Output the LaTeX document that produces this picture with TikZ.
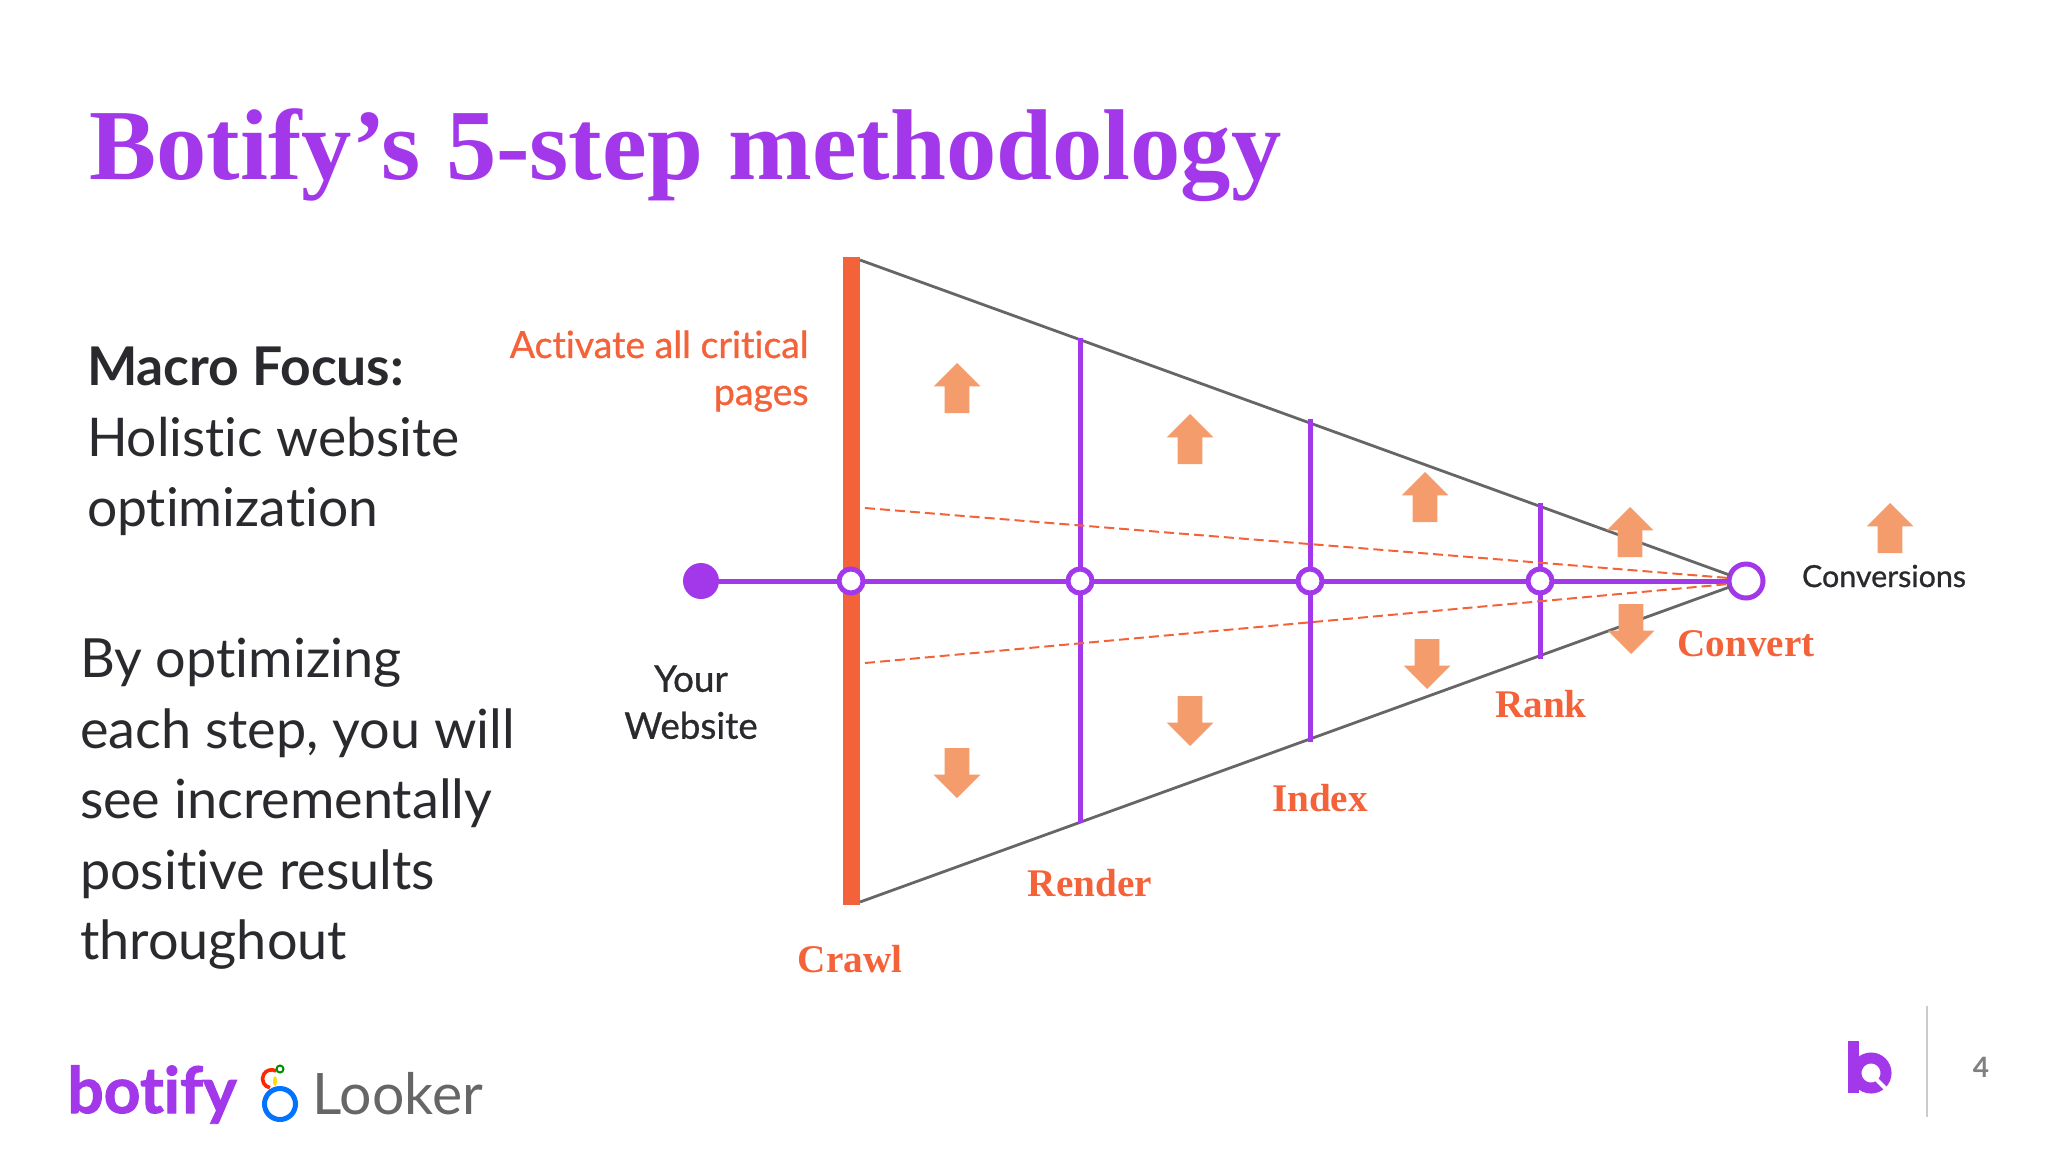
\documentclass[tikz,border=0pt]{standalone}
\usepackage{fontspec}
\setmainfont{Lato}[Ligatures=NoCommon]
\newfontfamily\titleface{Liberation Serif}
\newfontfamily\mediumface{Lato}[Ligatures=NoCommon,FakeBold=0.8]
\usetikzlibrary{shapes.arrows}

\definecolor{botpurple}{HTML}{A238EA}
\definecolor{botorange}{HTML}{F4623A}
\definecolor{botarrow}{HTML}{F49C6C}
\definecolor{botgrey}{HTML}{666666}
\definecolor{botink}{HTML}{2A2A2E}

\tikzset{
	bodytext/.style={inner sep=0pt,outer sep=0pt,align=left,text=botink,font=\fontsize{26.7}{35.3}\selectfont},
	steplabel/.style={inner sep=0pt,anchor=base,text=botorange,font=\titleface\bfseries\fontsize{19.6}{19.6}\selectfont},
	stepnode/.style={circle,draw=botpurple,line width=2.5pt,fill=white,minimum size=12pt,inner sep=0pt,outer sep=0pt},
	spine/.style={draw=botpurple,line width=2.5pt},
	edge/.style={draw=botgrey,line width=1.4pt},
	hint/.style={draw=botorange,line width=1pt,dash pattern=on 5pt off 2.5pt},
	block/.style={single arrow,fill=botarrow,inner xsep=0pt,inner ysep=6pt,outer sep=0pt,minimum height=25pt,minimum width=23pt,single arrow head extend=5.5pt,anchor=tail},
	upward/.style={block,rotate=90},
	downward/.style={block,rotate=-90},
}

\begin{document}
\begin{tikzpicture}[x=0.5pt,y=-0.5pt]
		\useasboundingbox (0,0) rectangle (2048,1152);

		\node[inner sep=0pt,anchor=base west,text=botpurple,font=\titleface\bfseries\fontsize{50.3}{50.3}\selectfont] (title) at (89,179) {Botify’s 5-step methodology};

		\node[bodytext,anchor=north west] (macro) at (87,347) {\textbf{Macro Focus:}\\Holistic website\\optimization};
		\node[bodytext,anchor=north west,font=\fontsize{27}{35.3}\selectfont] (steps) at (80,638) {By optimizing\\each step, you will\\see incrementally\\positive results\\throughout};

		\node[inner sep=0pt,align=right,anchor=north east,text=botorange,font=\mediumface\fontsize{18.7}{23.5}\selectfont] (critical) at (809,330) {Activate all critical\\pages};
		\node[inner sep=0pt,align=center,anchor=north,text=botink,font=\mediumface\fontsize{18.4}{23.5}\selectfont] (yoursite) at (691,665) {Your\\Website};

		% funnel
		\node[fill=botorange,inner sep=0pt,outer sep=0pt,minimum width=8.5pt,minimum height=324pt] (crawlbar) at (851,581) {};
		\coordinate (topedge) at (860,260);
		\coordinate (botedge) at (860,902);
		\coordinate (rendertop) at (1080,338);
		\coordinate (renderbot) at (1080,823);
		\coordinate (indextop) at (1310,419);
		\coordinate (indexbot) at (1310,742);
		\coordinate (ranktop) at (1540,503);
		\coordinate (rankbot) at (1540,659);
		\coordinate (hintup) at (865,508);
		\coordinate (hintdown) at (865,663);

		\node[circle,fill=botpurple,minimum size=18pt,inner sep=0pt,outer sep=0pt] (site) at (701,581) {};
		\node[stepnode] (crawl) at (851,581) {};
		\node[stepnode] (render) at (1080,581) {};
		\node[stepnode] (index) at (1310,581) {};
		\node[stepnode] (rank) at (1540,581) {};
		\node[stepnode,minimum size=17pt] (finish) at (1746,581) {};

		\draw[edge] (topedge) -- (finish.160);
		\draw[edge] (botedge) -- (finish.200);

		\draw[spine] (rendertop) -- (render);
		\draw[spine] (render) -- (renderbot);
		\draw[spine] (indextop) -- (index);
		\draw[spine] (index) -- (indexbot);
		\draw[spine] (ranktop) -- (rank);
		\draw[spine] (rank) -- (rankbot);

		\draw[spine] (site) -- (crawl);
		\draw[spine] (crawl) -- (render);
		\draw[spine] (render) -- (index);
		\draw[spine] (index) -- (rank);
		\draw[spine] (rank) -- (finish);

		\draw[hint] (hintup) -- (finish.170);
		\draw[hint] (hintdown) -- (finish.190);

		% arrows
		\node[upward] (up1) at (957,413) {};
		\node[upward] (up2) at (1190,464) {};
		\node[upward] (up3) at (1425,522) {};
		\node[upward] (up4) at (1630,557) {};
		\node[upward] (up5) at (1890,553) {};
		\node[downward] (down1) at (957,748) {};
		\node[downward] (down2) at (1190,696) {};
		\node[downward] (down3) at (1427,639) {};
		\node[downward] (down4) at (1631,604) {};

		\node[steplabel] (lcrawl) at (850,972) {Crawl};
		\node[steplabel] (lrender) at (1090,896) {Render};
		\node[steplabel] (lindex) at (1320,811) {Index};
		\node[steplabel] (lrank) at (1541,717) {Rank};
		\node[steplabel] (lconvert) at (1746,656) {Convert};
		\node[inner sep=0pt,anchor=base,text=botink,font=\mediumface\fontsize{15.2}{15.2}\selectfont] (lconv) at (1884,587) {Conversions};

		% footer
		\node[inner sep=0pt,anchor=base west,text=botpurple,font=\bfseries\fontsize{32}{32}\selectfont\addfontfeature{FakeBold=1.5}] (botify) at (67,1113) {botify};
		\node[inner sep=0pt,anchor=base west,text=botgrey,font=\fontsize{28.6}{28.6}\selectfont] (looker) at (312,1114) {Looker};
		\draw[color=blue!55!cyan,line width=2.5pt] (280,1104) circle (15.5);
		\draw[color=red!70!orange,line width=1.8pt] (276,1071) arc (60:260:4.5pt);
		\fill[color=yellow!80!orange] (275,1081) ellipse (2 and 5);
		\draw[color=green!55!black,line width=1pt] (280,1069) circle (3.5);

		\fill[botpurple] (1848,1041) rectangle (1859,1093);
		\draw[botpurple,line width=5.5pt] (1871,1073) circle (15);
		\draw[white,line width=2pt] (1875,1078) -- (1893,1096);

		\draw[color=black!20,line width=1pt] (1927,1006) -- (1927,1117);
		\node[inner sep=0pt,anchor=base,text=black!50,font=\bfseries\fontsize{14}{14}\selectfont] (pageno) at (1981,1077) {4};
	\end{tikzpicture}
\end{document}
